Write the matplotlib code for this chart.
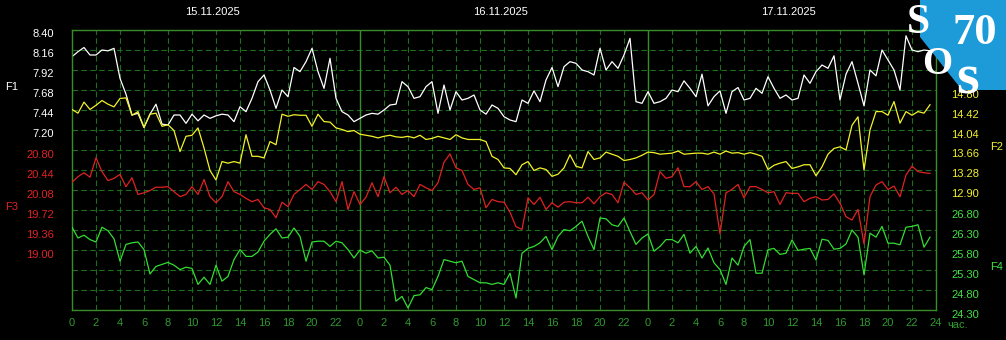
import matplotlib.pyplot as plt
import numpy as np
from matplotlib.patches import Polygon
from matplotlib.transforms import ScaledTranslation

plt.rcParams['font.family'] = ['Liberation Sans', 'DejaVu Sans']

dates = ['15.11.2025', '16.11.2025', '17.11.2025']
hours = np.arange(0, 72, 0.5)

# F1 (white, left scale)
f1 = [8.08, 8.14, 8.19, 8.10, 8.10, 8.16, 8.15, 8.18, 7.82, 7.63, 7.38, 7.40,
      7.23, 7.39, 7.51, 7.27, 7.26, 7.38, 7.38, 7.28, 7.39, 7.31, 7.38, 7.34,
      7.37, 7.39, 7.38, 7.30, 7.48, 7.42, 7.58, 7.78, 7.86, 7.68, 7.46, 7.68,
      7.60, 7.95, 7.90, 8.02, 8.18, 7.90, 7.70, 8.06, 7.58, 7.42, 7.38, 7.30,
      7.34, 7.38, 7.40, 7.39, 7.44, 7.50, 7.51, 7.78, 7.72, 7.58, 7.60, 7.72,
      7.78, 7.40, 7.74, 7.44, 7.66, 7.56, 7.58, 7.62, 7.44, 7.39, 7.50, 7.46,
      7.36, 7.32, 7.30, 7.56, 7.52, 7.67, 7.54, 7.80, 7.95, 7.72, 7.96, 8.02,
      8.00, 7.92, 7.90, 7.86, 8.18, 7.92, 8.02, 7.94, 8.10, 8.30, 7.54, 7.52,
      7.66, 7.52, 7.54, 7.58, 7.68, 7.66, 7.79, 7.70, 7.60, 7.87, 7.49, 7.60,
      7.67, 7.40, 7.66, 7.71, 7.56, 7.58, 7.70, 7.64, 7.84, 7.70, 7.58, 7.62,
      7.56, 7.58, 7.86, 7.76, 7.90, 7.98, 7.94, 8.09, 7.56, 7.87, 8.02, 7.76,
      7.49, 7.92, 7.85, 8.16, 8.04, 7.92, 7.68, 8.33, 8.16, 8.14, 8.16, 8.15]

# F2 (yellow, right scale)
f2 = [14.43, 14.36, 14.57, 14.43, 14.51, 14.60, 14.53, 14.48, 14.64, 14.65, 14.32, 14.39,
      14.09, 14.34, 14.36, 14.11, 14.14, 14.03, 13.63, 13.92, 13.94, 14.08, 13.70, 13.27,
      13.09, 13.44, 13.41, 13.44, 13.41, 13.95, 13.54, 13.54, 13.51, 13.82, 13.76, 14.34,
      14.30, 14.33, 14.32, 14.32, 14.11, 14.34, 14.20, 14.19, 14.08, 14.05, 14.01, 14.03,
      13.96, 13.94, 13.92, 13.89, 13.92, 13.94, 13.91, 13.90, 13.92, 13.89, 13.94, 13.86,
      13.88, 13.92, 13.89, 13.86, 13.95, 13.89, 13.86, 13.86, 13.86, 13.82, 13.54, 13.48,
      13.32, 13.31, 13.19, 13.38, 13.44, 13.27, 13.32, 13.29, 13.16, 13.20, 13.32, 13.57,
      13.35, 13.32, 13.63, 13.48, 13.51, 13.62, 13.58, 13.54, 13.46, 13.48, 13.51, 13.56,
      13.62, 13.61, 13.58, 13.59, 13.60, 13.64, 13.58, 13.59, 13.60, 13.60, 13.58, 13.62,
      13.58, 13.64, 13.60, 13.61, 13.58, 13.61, 13.58, 13.54, 13.29, 13.37, 13.41, 13.44,
      13.31, 13.34, 13.38, 13.38, 13.17, 13.34, 13.58, 13.69, 13.72, 13.66, 14.13, 14.29,
      13.28, 14.04, 14.39, 14.39, 14.32, 14.58, 14.17, 14.39, 14.32, 14.39, 14.36, 14.52]

# F3 (red, left scale)
f3 = [20.22, 20.32, 20.39, 20.31, 20.66, 20.41, 20.25, 20.29, 20.36, 20.14, 20.30, 20.00,
      20.03, 20.07, 20.13, 20.13, 20.14, 20.05, 19.96, 20.00, 20.14, 20.00, 20.27, 19.96,
      19.85, 19.96, 20.23, 20.05, 20.00, 19.93, 19.87, 19.91, 19.76, 19.73, 19.58, 19.86,
      19.78, 20.00, 20.09, 20.18, 20.09, 20.23, 20.18, 20.05, 19.87, 20.23, 19.73, 20.05,
      19.82, 19.95, 20.21, 19.96, 20.32, 20.03, 20.13, 20.00, 20.07, 19.96, 20.18, 20.12,
      20.07, 20.21, 20.58, 20.73, 20.48, 20.43, 20.18, 20.09, 20.12, 19.76, 19.91, 19.87,
      19.86, 19.68, 19.42, 19.37, 19.94, 19.82, 19.95, 19.73, 19.85, 19.77, 19.86, 19.87,
      19.85, 19.85, 19.95, 19.83, 19.96, 20.03, 20.00, 19.85, 20.22, 20.12, 20.00, 20.03,
      19.90, 20.00, 20.41, 20.29, 20.32, 20.48, 20.14, 20.14, 20.23, 20.09, 20.14, 20.01,
      19.29, 20.03, 20.09, 20.18, 19.94, 20.14, 20.14, 20.09, 20.03, 20.05, 19.82, 20.03,
      20.02, 20.02, 19.87, 19.93, 19.96, 19.90, 19.91, 20.01, 19.84, 19.60, 19.54, 19.73,
      19.11, 19.96, 20.17, 20.23, 20.09, 20.15, 19.96, 20.35, 20.51, 20.41, 20.39, 20.38]

# F4 (green, right scale)
f4 = [26.37, 26.10, 26.17, 26.06, 26.00, 26.37, 26.28, 26.08, 25.52, 25.94, 25.98, 26.00,
      25.81, 25.20, 25.39, 25.44, 25.49, 25.42, 25.31, 25.37, 25.34, 24.94, 25.12, 24.94,
      25.42, 25.02, 25.14, 25.56, 25.81, 25.64, 25.64, 25.75, 26.02, 26.19, 26.33, 26.10,
      26.12, 26.35, 26.14, 25.52, 26.00, 26.02, 26.02, 25.89, 26.02, 25.98, 25.81, 25.60,
      25.80, 25.72, 25.78, 25.60, 25.62, 25.42, 24.52, 24.64, 24.35, 24.66, 24.68, 24.86,
      24.81, 25.14, 25.56, 25.52, 25.48, 25.52, 25.14, 25.06, 24.98, 24.98, 24.94, 24.98,
      24.94, 25.22, 24.60, 25.72, 25.84, 25.89, 25.98, 26.14, 25.81, 26.14, 26.31, 26.28,
      26.39, 26.52, 26.14, 25.81, 26.60, 26.58, 26.43, 26.39, 26.60, 26.26, 25.94, 26.10,
      26.20, 25.77, 25.89, 26.06, 26.06, 25.98, 26.19, 25.72, 25.89, 25.60, 25.85, 25.48,
      25.31, 24.94, 25.60, 25.42, 25.89, 26.06, 25.22, 25.22, 25.81, 25.84, 25.69, 25.72,
      26.05, 25.79, 25.82, 25.84, 25.55, 26.07, 26.04, 25.82, 25.84, 25.95, 26.30, 26.12,
      25.18, 26.22, 26.12, 26.39, 25.97, 25.97, 25.93, 26.37, 26.39, 26.43, 25.87, 26.12]

f1_ticks = [8.40, 8.16, 7.92, 7.68, 7.44, 7.20]
f3_ticks = [20.80, 20.44, 20.08, 19.72, 19.36, 19.00]
f2_ticks = [14.80, 14.42, 14.04, 13.66, 13.28, 12.90]
f4_ticks = [26.80, 26.30, 25.80, 25.30, 24.80, 24.30]

n_rows = 14
grid_dash = '#1f6e1f'
grid_solid = '#3a8c2a'
c_white, c_yellow, c_red, c_green = '#ffffff', '#f2f22a', '#e02222', '#33dd33'
c_xtick = '#2f9a2f'

fig = plt.figure(figsize=(10.06, 3.40), dpi=100, facecolor='black')
ax = fig.add_axes([72 / 1006, 30 / 340, 864 / 1006, 280 / 340])
ax.set_facecolor('black')
ax.set_xlim(0, 72)
ax.set_axisbelow(True)

shift = ScaledTranslation(0, -0.035, fig.dpi_scale_trans)


def setup_scale(a, ticks, row, side, color, pad):
    step = ticks[0] - ticks[1]
    top = ticks[0] + row * step
    a.set_ylim(top - n_rows * step, top)
    if side == 'left':
        a.yaxis.tick_left()
    else:
        a.yaxis.tick_right()
    a.set_yticks(ticks)
    a.set_yticklabels(['%.2f' % t for t in ticks])
    a.tick_params(axis='y', length=0, pad=pad, labelsize=8, colors=color)
    for lab in a.get_yticklabels():
        lab.set_transform(lab.get_transform() + shift)
    for s in a.spines.values():
        s.set_visible(False)


# main axis: F1 + grid
step1 = f1_ticks[0] - f1_ticks[1]
ax.set_ylim(f1_ticks[0] - n_rows * step1, f1_ticks[0])
grid_vals = f1_ticks[0] - step1 * np.arange(n_rows + 1)
ax.set_yticks(grid_vals)
ax.set_yticklabels(['%.2f' % v if i < len(f1_ticks) else '' for i, v in enumerate(grid_vals)])
ax.tick_params(axis='y', length=0, pad=13, labelsize=8, colors=c_white)
for lab in ax.get_yticklabels():
    lab.set_transform(lab.get_transform() + shift)
ax.set_xticks(np.arange(0, 73, 2))
ax.set_xticklabels([str(h % 24) for h in range(0, 72, 2)] + ['24'])
ax.tick_params(axis='x', length=0, pad=6, labelsize=8, colors=c_xtick)
ax.grid(True, color=grid_dash, linestyle=(0, (5, 3)), linewidth=0.8)
for d in range(1, len(dates)):
    ax.axvline(24 * d, color=grid_solid, linewidth=1.0, zorder=1.6)
for s in ax.spines.values():
    s.set_color(grid_solid)
    s.set_linewidth(1.0)

ax2 = ax.twinx()
ax3 = ax.twinx()
ax4 = ax.twinx()
setup_scale(ax3, f3_ticks, 6, 'left', c_red, 13)
setup_scale(ax2, f2_ticks, 3, 'right', c_yellow, 11)
setup_scale(ax4, f4_ticks, 9, 'right', '#44e044', 11)

ax4.plot(hours, f4, color=c_green, linewidth=0.9)
ax3.plot(hours, f3, color=c_red, linewidth=0.9)
ax2.plot(hours, f2, color=c_yellow, linewidth=0.9)
ax.plot(hours, f1, color=c_white, linewidth=0.9)

for i, d in enumerate(dates):
    ax.text(24 * i + 11.7, 1.065, d, transform=ax.get_xaxis_transform(),
            ha='center', va='center', color='white', fontsize=8)

fig.text(12 / 1006, 1 - 87 / 340, 'F1', color=c_white, fontsize=8, ha='center', va='center')
fig.text(12 / 1006, 1 - 207 / 340, 'F3', color=c_red, fontsize=8, ha='center', va='center')
fig.text(997 / 1006, 1 - 147 / 340, 'F2', color=c_yellow, fontsize=8, ha='center', va='center')
fig.text(997 / 1006, 1 - 267 / 340, 'F4', color='#44e044', fontsize=8, ha='center', va='center')
fig.text(947 / 1006, 1 - 325 / 340, 'час.', color=c_xtick, fontsize=8, ha='left', va='center')

# logo
pts = [(920, 0), (1006, 0), (1006, 90), (962, 90), (920, 37)]
logo = Polygon([(x / 1006, 1 - y / 340) for x, y in pts], closed=True,
               transform=fig.transFigure, facecolor='#1c9bd8', edgecolor='none', zorder=20)
fig.add_artist(logo)
lf = dict(color='white', family=['Liberation Serif', 'DejaVu Serif'], weight='bold',
          ha='center', va='center', zorder=21)
fig.text(918 / 1006, 1 - 23 / 340, 'S', fontsize=30, **lf)
fig.text(975 / 1006, 1 - 33 / 340, '70', fontsize=32, **lf)
fig.text(937 / 1006, 1 - 64 / 340, 'O', fontsize=28, **lf)
fig.text(968 / 1006, 1 - 80 / 340, 's', fontsize=42, **lf)

fig.savefig('out.png', dpi=100, facecolor='black')
